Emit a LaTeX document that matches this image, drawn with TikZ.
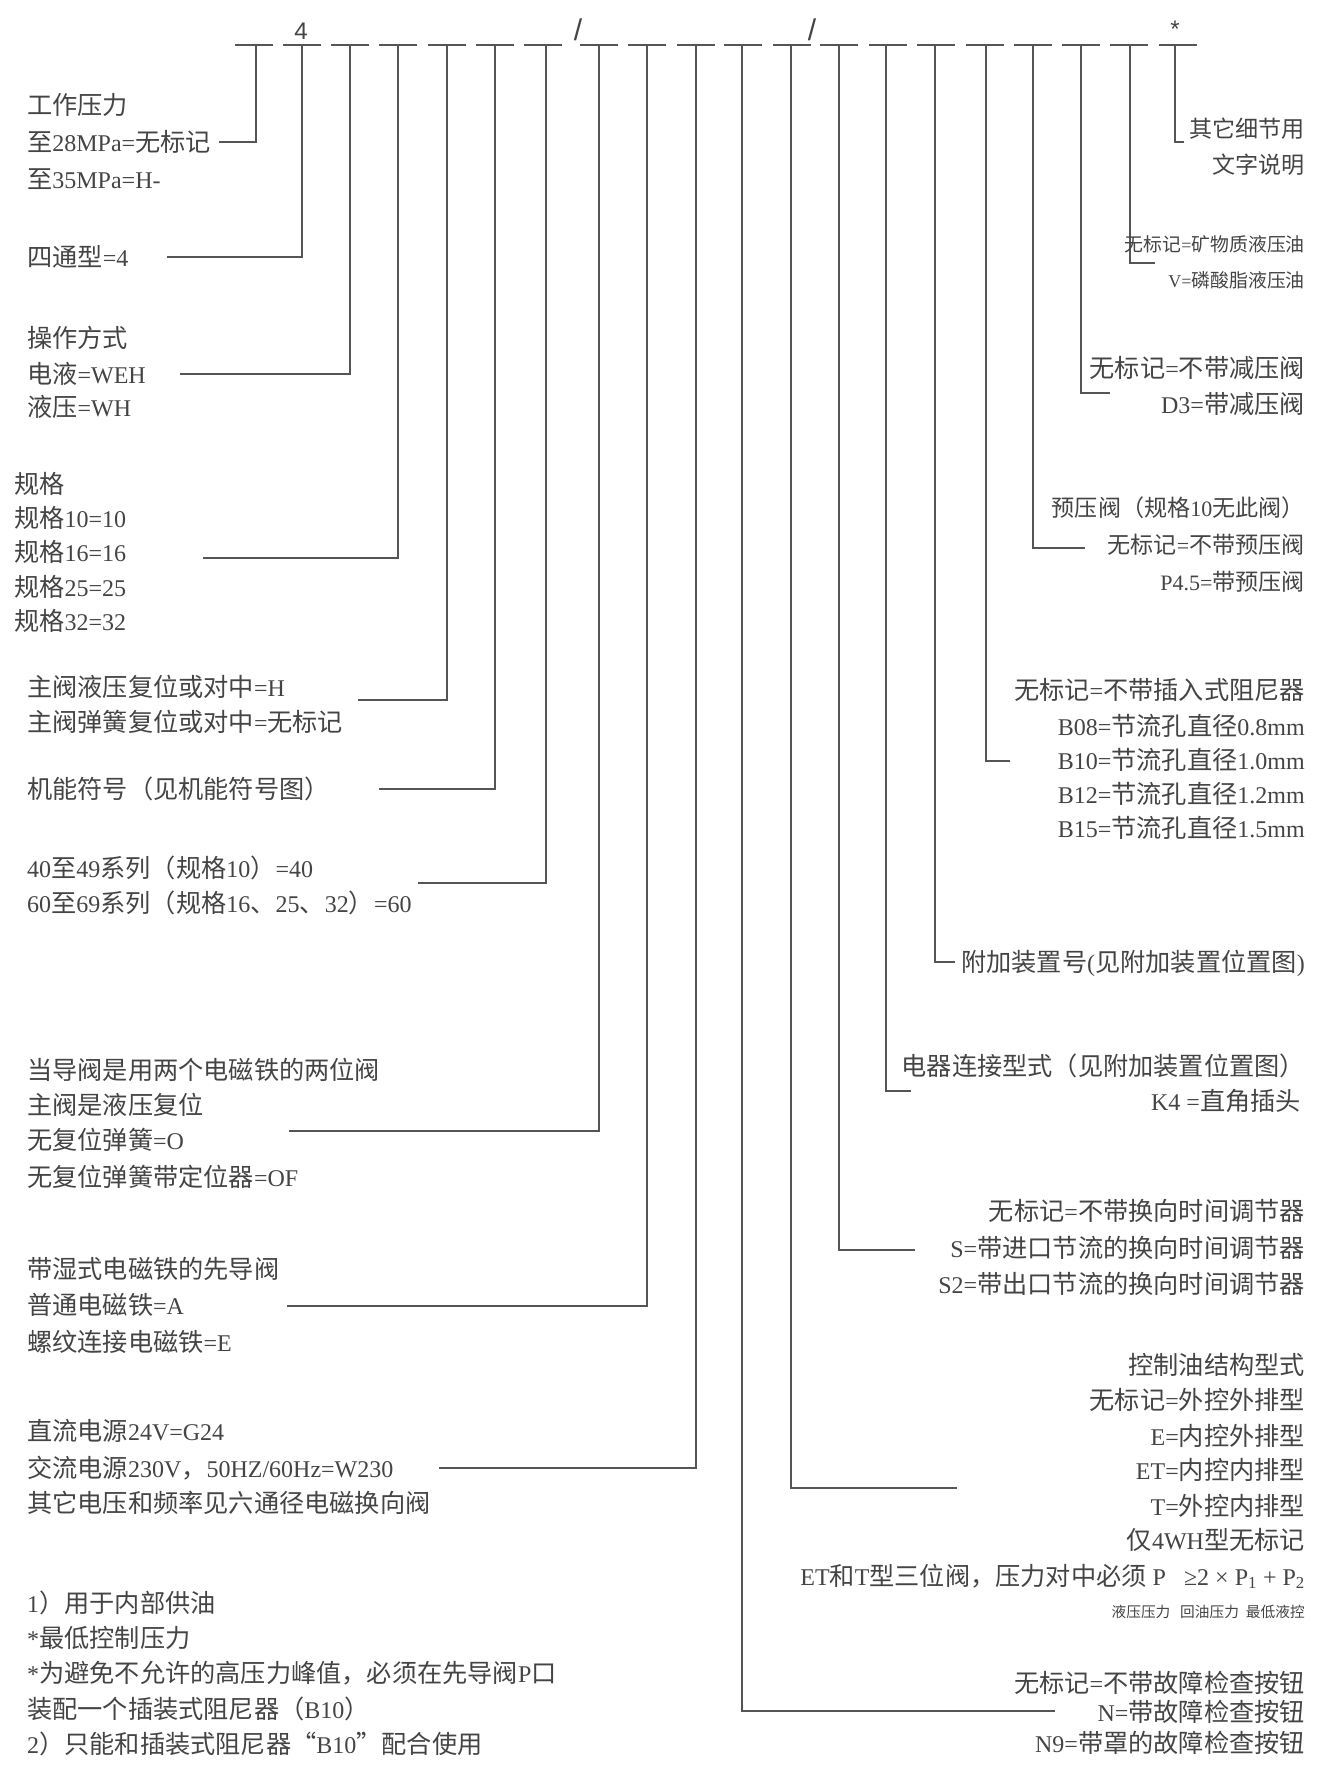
\documentclass[tikz,border=0pt]{standalone}
\usepackage{fontspec}
\setmainfont{Liberation Serif}
\newfontfamily\cjkf[Scale=1.05]{Noto Sans CJK SC}
\newfontfamily\sansf{Liberation Sans}
\XeTeXinterchartokenstate=1
\chardef\CJKcls=10
\newcount\cjkcnt
\def\setcjkrange#1#2{\cjkcnt=#1\relax\loop\ifnum\cjkcnt<#2\relax\XeTeXcharclass\cjkcnt=\CJKcls\advance\cjkcnt by 1\relax\repeat}
\setcjkrange{"4E00}{"A000}
\setcjkrange{"3000}{"3040}
\setcjkrange{"FF00}{"FFF0}
\setcjkrange{"201C}{"201E}
\XeTeXinterchartoks 0 \CJKcls = {\cjkf}
\XeTeXinterchartoks 4095 \CJKcls = {\cjkf}
\XeTeXinterchartoks \CJKcls 0 = {\rmfamily}
\XeTeXinterchartoks \CJKcls 4095 = {\rmfamily}
\definecolor{txt}{RGB}{68,68,68}
\definecolor{ln}{RGB}{85,85,85}
\tikzset{
  lt/.style={anchor=base west, inner sep=0pt, text=txt, font=\fontsize{24}{28}\selectfont},
  rt/.style={anchor=base east, inner sep=0pt, text=txt, font=\fontsize{24}{28}\selectfont},
  midrt/.style={rt, font=\fontsize{22}{26}\selectfont},
  smallrt/.style={rt, font=\fontsize{18}{22}\selectfont},
  tinyrt/.style={rt, font=\fontsize{14}{16}\selectfont},
  topmark/.style={inner sep=0pt, text=txt, font=\sansf\fontsize{24}{26}\selectfont},
  conn/.style={draw=ln, line width=1.4pt},
  segline/.style={draw=ln, line width=1.8pt},
}
\begin{document}
\begin{tikzpicture}[x=1pt,y=-1pt]
\useasboundingbox (0,0) rectangle (1335,1786);
% top code line segments
\foreach \s in {235,283,331,379,428,476,524,580,628,677,724,773,820,869,917,966,1014,1062,1110,1159}
  \draw[segline] (\s,45) -- ++(38,0);
\node[topmark] (m4) at (301,31) {4};
\node[topmark, font=\sansf\fontsize{30}{32}\selectfont] (sl1) at (578,30) {/};
\node[topmark, font=\sansf\fontsize{30}{32}\selectfont] (sl2) at (812,30) {/};
\node[topmark] (star) at (1175,29) {*};
% tick coordinates
\coordinate (t1) at (256,45);  \coordinate (t2) at (302,45);
\coordinate (t3) at (350,45);  \coordinate (t4) at (398,45);
\coordinate (t5) at (447,45);  \coordinate (t6) at (495,45);
\coordinate (t7) at (546,45);  \coordinate (t8) at (599,45);
\coordinate (t9) at (647,45);  \coordinate (t10) at (696,45);
\coordinate (t11) at (742,45); \coordinate (t12) at (791,45);
\coordinate (t13) at (839,45); \coordinate (t14) at (886,45);
\coordinate (t15) at (935,45); \coordinate (t16) at (986,45);
\coordinate (t17) at (1033,45);\coordinate (t18) at (1081,45);
\coordinate (t19) at (1130,45);\coordinate (t20) at (1175,45);
% connector ends
\coordinate (e1) at (219,142);  \coordinate (e2) at (167,257);
\coordinate (e3) at (180,374);  \coordinate (e4) at (203,558);
\coordinate (e5) at (358,700);  \coordinate (e6) at (379,789);
\coordinate (e7) at (418,883);  \coordinate (e8) at (289,1131);
\coordinate (e9) at (287,1306); \coordinate (e10) at (439,1468);
\coordinate (e11) at (1055,1711); \coordinate (e12) at (957,1488);
\coordinate (e13) at (915,1250); \coordinate (e14) at (911,1091);
\coordinate (e15) at (955,962);  \coordinate (e16) at (1010,761);
\coordinate (e17) at (1085,548); \coordinate (e18) at (1110,393);
\coordinate (e19) at (1155,263); \coordinate (e20) at (1184,142);
\foreach \i in {1,...,20} \draw[conn] (t\i) |- (e\i);
% ---------- left texts ----------
\node[lt] (a1) at (27,114) {工作压力};
\node[lt] (a2) at (27,151) {至28MPa=无标记};
\node[lt] (a3) at (27,188) {至35MPa=H-};
\node[lt] (b1) at (27,266) {四通型=4};
\node[lt] (c1) at (27,347) {操作方式};
\node[lt] (c2) at (27,383) {电液=WEH};
\node[lt] (c3) at (27,416) {液压=WH};
\node[lt] (d1) at (14,493) {规格};
\node[lt] (d2) at (14,527) {规格10=10};
\node[lt] (d3) at (14,561) {规格16=16};
\node[lt] (d4) at (14,596) {规格25=25};
\node[lt] (d5) at (14,630) {规格32=32};
\node[lt] (f1) at (27,696) {主阀液压复位或对中=H};
\node[lt] (f2) at (27,731) {主阀弹簧复位或对中=无标记};
\node[lt] (g1) at (27,798) {机能符号（见机能符号图）};
\node[lt] (h1) at (27,877) {40至49系列（规格10）=40};
\node[lt] (h2) at (27,912) {60至69系列（规格16、25、32）=60};
\node[lt] (i1) at (27,1079) {当导阀是用两个电磁铁的两位阀};
\node[lt] (i2) at (27,1114) {主阀是液压复位};
\node[lt] (i3) at (27,1149) {无复位弹簧=O};
\node[lt] (i4) at (27,1186) {无复位弹簧带定位器=OF};
\node[lt] (j1) at (27,1278) {带湿式电磁铁的先导阀};
\node[lt] (j2) at (27,1314) {普通电磁铁=A};
\node[lt] (j3) at (27,1351) {螺纹连接电磁铁=E};
\node[lt] (k1) at (27,1440) {直流电源24V=G24};
\node[lt] (k2) at (27,1477) {交流电源230V，50HZ/60Hz=W230};
\node[lt] (k3) at (27,1512) {其它电压和频率见六通径电磁换向阀};
\node[lt] (n1) at (27,1612) {1）用于内部供油};
\node[lt] (n2) at (27,1647) {*最低控制压力};
\node[lt] (n3) at (27,1682) {*为避免不允许的高压力峰值，必须在先导阀P口};
\node[lt] (n4) at (27,1718) {装配一个插装式阻尼器（B10）};
\node[lt] (n5) at (27,1753) {2）只能和插装式阻尼器“B10”配合使用};
% ---------- right texts ----------
\node[midrt] (r1) at (1305,137) {其它细节用};
\node[midrt] (r2) at (1305,173) {文字说明};
\node[smallrt] (s1) at (1305,251) {无标记=矿物质液压油};
\node[smallrt] (s2) at (1305,287) {V=磷酸脂液压油};
\node[rt] (u1) at (1305,377) {无标记=不带减压阀};
\node[rt] (u2) at (1305,413) {D3=带减压阀};
\node[midrt] (v1) at (1305,516) {预压阀（规格10无此阀）};
\node[midrt] (v2) at (1305,553) {无标记=不带预压阀};
\node[midrt] (v3) at (1305,590) {P4.5=带预压阀};
\node[rt] (w1) at (1305,699) {无标记=不带插入式阻尼器};
\node[rt] (w2) at (1305,735) {B08=节流孔直径0.8mm};
\node[rt] (w3) at (1305,769) {B10=节流孔直径1.0mm};
\node[rt] (w4) at (1305,803) {B12=节流孔直径1.2mm};
\node[rt] (w5) at (1305,837) {B15=节流孔直径1.5mm};
\node[rt] (x1) at (1305,971) {附加装置号(见附加装置位置图)};
\node[rt] (y1) at (1305,1075) {电器连接型式（见附加装置位置图）};
\node[rt] (y2) at (1301,1110) {K4 =直角插头};
\node[rt] (z1) at (1305,1220) {无标记=不带换向时间调节器};
\node[rt] (z2) at (1305,1257) {S=带进口节流的换向时间调节器};
\node[rt] (z3) at (1305,1293) {S2=带出口节流的换向时间调节器};
\node[rt] (o1) at (1305,1374) {控制油结构型式};
\node[rt] (o2) at (1305,1409) {无标记=外控外排型};
\node[rt] (o3) at (1305,1445) {E=内控外排型};
\node[rt] (o4) at (1305,1479) {ET=内控内排型};
\node[rt] (o5) at (1305,1515) {T=外控内排型};
\node[rt] (o6) at (1305,1549) {仅4WH型无标记};
\node[rt] (o7) at (1305,1585) {ET和T型三位阀，压力对中必须 P\ \ \ ≥2 × P\textsubscript{1} + P\textsubscript{2}};
\node[tinyrt] (o8) at (1305,1617) {液压压力\hspace{0.7em}回油压力\hspace{0.5em}最低液控};
\node[rt] (q1) at (1305,1692) {无标记=不带故障检查按钮};
\node[rt] (q2) at (1305,1721) {N=带故障检查按钮};
\node[rt] (q3) at (1305,1752) {N9=带罩的故障检查按钮};
\end{tikzpicture}
\end{document}
